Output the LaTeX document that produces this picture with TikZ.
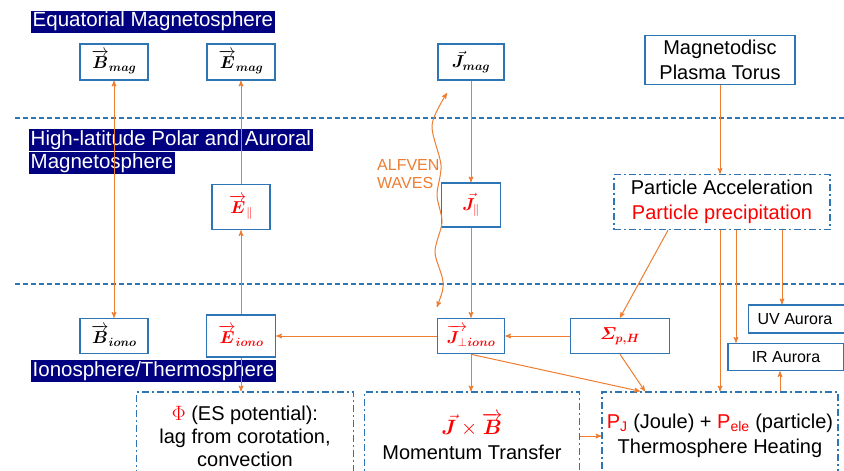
\documentclass[tikz,border=0pt]{standalone}
\usepackage{amsmath}
\usepackage{bm}
\usepackage[no-math]{fontspec}
\setmainfont{Liberation Sans}
\usetikzlibrary{arrows}

\definecolor{boxblue}{RGB}{46,117,182}
\definecolor{linkorange}{RGB}{237,125,49}
\definecolor{regionblue}{RGB}{0,0,128}

\begin{document}
\begin{tikzpicture}[x=1pt,y=-1pt,>=stealth',
  qty/.style={draw=boxblue,line width=1.6pt,fill=white,inner sep=0pt,font=\fontsize{18}{21}\selectfont},
  txtbox/.style={qty,align=center,font=\fontsize{20}{25}\selectfont},
  group/.style={draw=boxblue,line width=1.5pt,dash pattern=on 7pt off 3pt on 2pt off 3pt,align=center,inner sep=0pt,font=\fontsize{20}{23}\selectfont},
  region/.style={fill=regionblue,text=white,inner xsep=1.5pt,inner ysep=1pt,text height=15pt,text depth=5pt,anchor=west,font=\fontsize{20.5}{22}\selectfont},
  layer/.style={draw=boxblue,line width=1.2pt,dash pattern=on 5pt off 3pt},
  link/.style={->,draw=linkorange,line width=1pt}]
	\useasboundingbox (0,0) rectangle (844,471);
	% layer boundaries
	\coordinate (upL) at (15,118);  \coordinate (upR) at (844,118);
	\coordinate (loL) at (15,284);  \coordinate (loR) at (844,284);
	\draw[layer] (upL) -- (upR);
	\draw[layer] (loL) -- (loR);
	% region names
	\node[region] (eqlab)  at (31,22)  {Equatorial Magnetosphere};
	\node[region] (hilab)  at (29,140) {High-latitude Polar and Auroral};
	\node[region] (hilab2) at (29,163) {Magnetosphere};
	\node[region] (ionlab) at (31,371) {Ionosphere/Thermosphere};
	% equatorial
	\node[qty,minimum width=68pt,minimum height=36pt] (Bmag) at (114,62) {$\overrightarrow{\bm B}_{\bm{mag}}$};
	\node[qty,minimum width=68pt,minimum height=36pt] (Emag) at (241,62) {$\overrightarrow{\bm E}_{\bm{mag}}$};
	\node[qty,minimum width=66pt,minimum height=36pt] (Jmag) at (471,62) {$\vec{\bm J}_{\bm{mag}}$};
	\node[txtbox,minimum width=150pt,minimum height=49pt] (torus) at (720,60) {Magnetodisc\\Plasma Torus};
	% high latitude
	\node[qty,minimum width=58pt,minimum height=45pt,text=red] (Epar) at (241,207) {$\overrightarrow{\bm E}_{\|}$};
	\node[qty,minimum width=59pt,minimum height=44pt,text=red] (Jpar) at (471,205) {$\vec{\bm J}_{\|}$};
	\node[group,minimum width=216pt,minimum height=55pt,font=\fontsize{20}{25}\selectfont] (accel) at (722,202) {Particle Acceleration\\{\color{red}Particle precipitation}};
	\node[anchor=west,align=left,text=linkorange,inner sep=0pt,font=\fontsize{16}{18}\selectfont] (alfven) at (377,174) {ALFVEN\\WAVES};
	% ionosphere
	\node[qty,minimum width=68pt,minimum height=35pt] (Biono) at (114,336) {$\overrightarrow{\bm B}_{\bm{iono}}$};
	\node[qty,minimum width=69pt,minimum height=42pt,text=red] (Eiono) at (241,336) {$\overrightarrow{\bm E}_{\bm{iono}}$};
	\node[qty,minimum width=67pt,minimum height=35pt,text=red] (Jperp) at (471,336) {$\overrightarrow{\bm J_{\perp}}_{\bm{iono}}$};
	\node[qty,minimum width=99pt,minimum height=35pt,text=red] (Sigma) at (620,336) {$\bm{\varSigma_{p,H}}$};
	\node[qty,minimum width=101pt,minimum height=28pt,font=\fontsize{16}{19}\selectfont] (UV) at (799,319) {UV Aurora\hspace*{8pt}};
	\node[qty,minimum width=116pt,minimum height=27pt,font=\fontsize{16}{19}\selectfont] (IR) at (786,357) {IR Aurora};
	% effects
	\node[group,minimum width=217pt,minimum height=88pt] (phi) at (245,436) {{\color{red}$\Phi$} (ES potential):\\lag from corotation,\\convection};
	\node[group,minimum width=215pt,minimum height=88pt,font=\fontsize{20}{25}\selectfont] (JxB) at (472,436) {{\color{red}$\vec{\bm J}\times\overrightarrow{\bm B}$}\\Momentum Transfer};
	\node[group,minimum width=236pt,minimum height=88pt,font=\fontsize{20}{25}\selectfont] (heat) at (720,436) {{\color{red}P\textsubscript{J}} (Joule) + {\color{red}P\textsubscript{ele}} (particle)\\Thermosphere Heating};
	% couplings
	\draw[link,<->] (Bmag) -- (Biono);
	\draw[link] (Epar) -- (Emag);
	\draw[link] (Eiono) -- (Epar);
	\draw[link] (Eiono.south) -- (Eiono.south |- phi.north);
	\draw[link] (Jmag) -- (Jpar);
	\draw[link] (Jpar) -- (Jperp);
	\draw[link] (Jperp) -- (Eiono);
	\draw[link] (Sigma) -- (Jperp);
	\draw[link] (Jperp.south) -- (Jperp.south |- JxB.north);
	\draw[link] (Jperp.south) -- ([xshift=-80pt]heat.north);
	\draw[link] (Sigma.south) -- ([xshift=-75pt]heat.north);
	\draw[link] ([xshift=-54pt]accel.south) -- (Sigma.north);
	\draw[link] (torus.south) -- (torus.south |- accel.north);
	\draw[link] (heat.north |- accel.south) -- (heat.north);
	\draw[link] ([xshift=14pt]accel.south) -- ([xshift=14pt]accel.south |- IR.north);
	\draw[link] ([xshift=60pt]accel.south) -- ([xshift=60pt]accel.south |- UV.north);
	\draw[link] ([xshift=60pt]heat.north) -- ([xshift=60pt]heat.north |- IR.south);
	\draw[link] (JxB) -- (heat);
	% alfven waves
	\coordinate (wavetop) at (447,93);
	\coordinate (wavebot) at (437,307);
	\draw[link,<->] plot[smooth] coordinates {(wavebot) (443,282) (435,252) (442,222) (437,195) (441,165) (432,125) (wavetop)};
\end{tikzpicture}
\end{document}
